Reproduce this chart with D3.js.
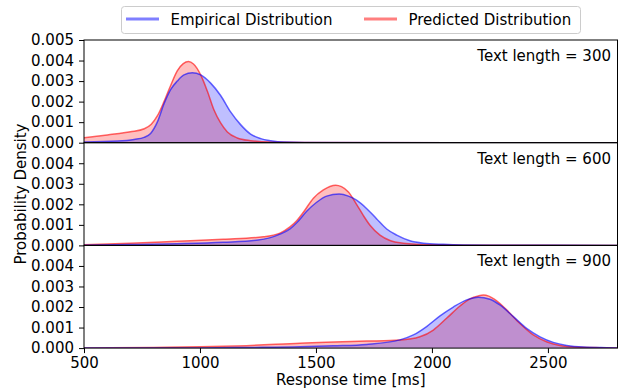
<!DOCTYPE html>
<html>
<head>
<meta charset="utf-8">
<script src="https://cdn.jsdelivr.net/npm/d3@7"></script>
<style>
  body { margin: 0; background: #fff; }
  text { font-family: "DejaVu Sans", sans-serif; fill: #000; }
</style>
</head>
<body>
<div id="chart"></div>
<script>
var w = 619, h = 392;

// [response time ms, density]
var emp300 = [[500,0.00003],[644,0.00008],[716,0.00016],[759,0.00026],[787,0.00045],[816,0.001],[845,0.0019],[874,0.0026],[902,0.003],[931,0.0033],[967,0.0034],[1003,0.0033],[1046,0.0029],[1089,0.0023],[1132,0.0015],[1175,0.00088],[1218,0.00042],[1262,0.0002],[1305,0.0001],[1362,0.00003],[1450,0.00001],[2800,0]];
var pred300 = [[500,0.00024],[600,0.00038],[700,0.00053],[760,0.00068],[790,0.0009],[816,0.0013],[845,0.002],[874,0.0028],[902,0.0035],[928,0.00385],[950,0.00395],[972,0.00383],[1003,0.0033],[1032,0.0025],[1060,0.0016],[1089,0.00096],[1118,0.00052],[1161,0.00023],[1218,0.0001],[1305,0.00003],[1450,0.00001],[2800,0]];

var emp600 = [[500,0.00001],[700,0.00004],[900,0.00008],[1100,0.00015],[1250,0.00026],[1345,0.00055],[1388,0.0008],[1417,0.0011],[1460,0.00166],[1503,0.0021],[1546,0.0024],[1600,0.0025],[1640,0.0024],[1675,0.0022],[1718,0.0018],[1761,0.0013],[1805,0.0008],[1848,0.0005],[1905,0.00023],[1963,0.00011],[2049,0.00005],[2135,0.00002],[2300,0.000005],[2800,0]];
var pred600 = [[500,0.00003],[700,0.0001],[900,0.0002],[1100,0.0003],[1273,0.00042],[1345,0.0006],[1388,0.0009],[1417,0.0012],[1445,0.0016],[1489,0.0023],[1532,0.0027],[1560,0.00287],[1585,0.00293],[1610,0.00286],[1640,0.0026],[1675,0.002],[1704,0.00146],[1733,0.00098],[1776,0.0005],[1819,0.00024],[1876,0.00011],[1991,0.00003],[2200,0.00001],[2800,0]];

var emp900 = [[500,0],[1000,0.00001],[1200,0.00003],[1431,0.00006],[1575,0.00011],[1718,0.00018],[1862,0.0004],[1920,0.00064],[1977,0.00105],[2035,0.00157],[2092,0.002],[2150,0.00235],[2200,0.00248],[2250,0.00238],[2293,0.0021],[2351,0.00153],[2408,0.00096],[2466,0.00055],[2523,0.00028],[2581,0.00013],[2652,0.00005],[2753,0.00002],[2800,0.00001]];
var pred900 = [[500,0.00001],[800,0.00003],[1000,0.00006],[1200,0.00012],[1431,0.00024],[1575,0.0003],[1718,0.00034],[1862,0.00039],[1948,0.00055],[2006,0.00088],[2063,0.00145],[2121,0.00205],[2164,0.0024],[2200,0.00254],[2222,0.00258],[2245,0.00253],[2279,0.0023],[2322,0.00186],[2379,0.0012],[2437,0.00064],[2494,0.00031],[2552,0.00013],[2624,0.00005],[2724,0.00002],[2800,0.00001]];

var textLengths = [300, 600, 900];
var seriesNames = ["Empirical Distribution", "Predicted Distribution"];
var xTicks = [500, 1000, 1500, 2000, 2500];
var yTicksTop = [0, 0.001, 0.002, 0.003, 0.004, 0.005];
var yTicksRest = [0, 0.001, 0.002, 0.003, 0.004];

var panels = [
  {len: textLengths[0], emp: emp300, pred: pred300},
  {len: textLengths[1], emp: emp600, pred: pred600},
  {len: textLengths[2], emp: emp900, pred: pred900}
];

var left = 84, right = 617.5, plotTop = 40, panelH = 102.7;

var svg = d3.select("#chart").append("svg")
    .attr("width", w)
    .attr("height", h);

var x = d3.scaleLinear().domain([500, 2800]).range([left, right]);

var fmtY = d3.format(".3f");

panels.forEach(function(p, i) {
  var y0 = plotTop + i * panelH;
  var y = d3.scaleLinear().domain([0, 0.005]).range([y0 + panelH, y0]);
  var g = svg.append("g");

  var clipId = "clip" + i;
  svg.append("clipPath").attr("id", clipId).append("rect")
      .attr("x", left).attr("y", y0).attr("width", right - left).attr("height", panelH);

  var area = d3.area()
      .x(function(d){ return x(d[0]); })
      .y0(y(0))
      .y1(function(d){ return y(d[1]); })
      .curve(d3.curveMonotoneX);
  var line = d3.line()
      .x(function(d){ return x(d[0]); })
      .y(function(d){ return y(d[1]); })
      .curve(d3.curveMonotoneX);

  var plot = g.append("g").attr("clip-path", "url(#" + clipId + ")");
  plot.append("path").datum(p.pred).attr("d", area)
      .attr("fill", "red").attr("fill-opacity", 0.25);
  plot.append("path").datum(p.emp).attr("d", area)
      .attr("fill", "blue").attr("fill-opacity", 0.25);
  plot.append("path").datum(p.pred).attr("d", line)
      .attr("fill", "none").attr("stroke", "red").attr("stroke-opacity", 0.6).attr("stroke-width", 1.5);
  plot.append("path").datum(p.emp).attr("d", line)
      .attr("fill", "none").attr("stroke", "blue").attr("stroke-opacity", 0.6).attr("stroke-width", 1.5);

  // y axis
  var yAxis = d3.axisLeft(y)
      .tickValues(i == 0 ? yTicksTop : yTicksRest)
      .tickFormat(fmtY)
      .tickSize(5)
      .tickPadding(5);
  var ya = g.append("g").attr("transform", "translate(" + left + ",0)").call(yAxis);
  ya.select(".domain").remove();
  ya.selectAll("text").style("font-size", "15px").style("font-family", "DejaVu Sans, sans-serif");
  ya.selectAll("line").attr("stroke", "#000");

  // frame
  g.append("rect")
      .attr("x", left).attr("y", y0)
      .attr("width", right - left).attr("height", panelH)
      .attr("fill", "none").attr("stroke", "#000").attr("stroke-width", 1);

  g.append("text")
      .attr("x", 611).attr("y", y0 + 20.8)
      .attr("text-anchor", "end")
      .style("font-size", "15px")
      .text("Text length = " + p.len);

  if (i == panels.length - 1) {
    var xa = g.append("g").attr("transform", "translate(0," + (y0 + panelH) + ")")
        .call(d3.axisBottom(x).tickValues(xTicks).tickFormat(d3.format("d")).tickSize(5).tickPadding(4.5));
    xa.select(".domain").remove();
    xa.selectAll("text").style("font-size", "15px").style("font-family", "DejaVu Sans, sans-serif");
  }
});

svg.append("text")
    .attr("x", (left + right) / 2).attr("y", 385)
    .attr("text-anchor", "middle")
    .style("font-size", "15px")
    .text("Response time [ms]");

svg.append("text")
    .attr("transform", "translate(26," + (plotTop + 1.5 * panelH) + ") rotate(-90)")
    .attr("text-anchor", "middle")
    .style("font-size", "15px")
    .text("Probability Density");

// legend
var leg = svg.append("g");
leg.append("rect")
    .attr("x", 121.5).attr("y", 6.5).attr("width", 459).attr("height", 27).attr("rx", 3)
    .attr("fill", "#fff").attr("stroke", "#ccc");
var legX = [126, 364];
var legColor = ["blue", "red"];
seriesNames.forEach(function(name, k) {
  leg.append("line")
      .attr("x1", legX[k]).attr("x2", legX[k] + 33)
      .attr("y1", 19).attr("y2", 19)
      .attr("stroke", legColor[k]).attr("stroke-opacity", 0.5).attr("stroke-width", 3);
  leg.append("text")
      .attr("x", legX[k] + 44.5).attr("y", 25)
      .style("font-size", "15px")
      .text(name);
});
</script>
</body>
</html>
